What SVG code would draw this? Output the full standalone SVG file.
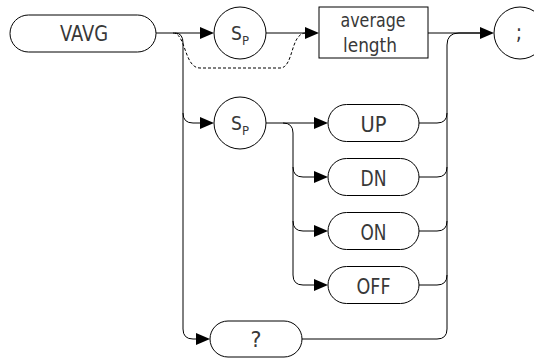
<svg xmlns="http://www.w3.org/2000/svg" width="534" height="358" viewBox="0 0 534 358">
<style>
.n{fill:#fff;stroke:#000;stroke-width:1}
.t{font-family:"DejaVu Sans Condensed","Liberation Sans Narrow","Liberation Sans",sans-serif;fill:#383838;text-anchor:middle}
.c{fill:none;stroke:#000;stroke-width:1}
.d{fill:none;stroke:#000;stroke-width:1;stroke-dasharray:3,2}
.a{fill:#000}
</style>
<rect width="534" height="358" fill="#fff"/>
<g id="connectors">
<path class="c" d="M156,33 H201"/>
<path class="c" d="M175,33 Q183,33 183,43 V329 Q183,339 193,339 H198"/>
<path class="c" d="M183,113 Q183,123 193,123 H202"/>
<path class="d" d="M173,33 C186,33 184,68 200,68 H280 C294,68 290,33 306,33"/>
<path class="c" d="M266,33 H307"/>
<path class="c" d="M428,33 H482"/>
<path class="c" d="M302,339 H437 Q447,339 447,329 V45 Q447,33 459,33 H482"/>
<path class="c" d="M419,123 H437 Q447,123 447,113"/>
<path class="c" d="M419,177 H437 Q447,177 447,167"/>
<path class="c" d="M419,231 H437 Q447,231 447,221"/>
<path class="c" d="M419,285 H437 Q447,285 447,275"/>
<path class="c" d="M266,123 H316"/>
<path class="c" d="M283,123 Q293,123 293,133 V275 Q293,285 303,285 H316"/>
<path class="c" d="M293,167 Q293,177 303,177 H316"/>
<path class="c" d="M293,221 Q293,231 303,231 H316"/>
<polygon class="a" points="214,33 200,27 200,39"/>
<polygon class="a" points="319,33 305,27 305,39"/>
<polygon class="a" points="494,33 480,27 480,39"/>
<polygon class="a" points="214,123 200,117 200,129"/>
<polygon class="a" points="328,123 314,117 314,129"/>
<polygon class="a" points="328,177 314,171 314,183"/>
<polygon class="a" points="328,231 314,225 314,237"/>
<polygon class="a" points="328,285 314,279 314,291"/>
<polygon class="a" points="210,339 196,333 196,345"/>
</g>
<g id="vavg"><rect class="n" x="10" y="15" width="146" height="37" rx="18.5"/><text class="t" x="84" y="40.5" font-size="21" textLength="48" lengthAdjust="spacingAndGlyphs">VAVG</text></g>
<g id="sp1"><circle class="n" cx="240" cy="33" r="26"/><text class="t" x="240" y="40" font-size="19"><tspan>S</tspan><tspan font-size="13" dy="5">P</tspan></text></g>
<g id="avglen"><rect class="n" x="319" y="7" width="109" height="51"/><text class="t" x="373" y="27" font-size="19" textLength="65" lengthAdjust="spacingAndGlyphs">average</text><text class="t" x="370" y="52" font-size="19" textLength="54" lengthAdjust="spacingAndGlyphs">length</text></g>
<g id="semi"><circle class="n" cx="520" cy="33" r="26"/><text class="t" x="519" y="40" font-size="21">;</text></g>
<g id="sp2"><circle class="n" cx="240" cy="123" r="26"/><text class="t" x="240" y="130" font-size="19"><tspan>S</tspan><tspan font-size="13" dy="5">P</tspan></text></g>
<g id="up"><rect class="n" x="328" y="104.5" width="91" height="37" rx="18.5"/><text class="t" x="373.5" y="131.5" font-size="22" textLength="26" lengthAdjust="spacingAndGlyphs">UP</text></g>
<g id="dn"><rect class="n" x="328" y="158.5" width="91" height="37" rx="18.5"/><text class="t" x="373.5" y="185.5" font-size="22" textLength="26" lengthAdjust="spacingAndGlyphs">DN</text></g>
<g id="on"><rect class="n" x="328" y="212.5" width="91" height="37" rx="18.5"/><text class="t" x="373.5" y="239.5" font-size="22" textLength="26" lengthAdjust="spacingAndGlyphs">ON</text></g>
<g id="off"><rect class="n" x="328" y="266.5" width="91" height="37" rx="18.5"/><text class="t" x="373.5" y="293.5" font-size="22" textLength="34" lengthAdjust="spacingAndGlyphs">OFF</text></g>
<g id="query"><rect class="n" x="210" y="321" width="92" height="36" rx="18"/><text class="t" x="256" y="347" font-size="22" textLength="11" lengthAdjust="spacingAndGlyphs">?</text></g>
</svg>
